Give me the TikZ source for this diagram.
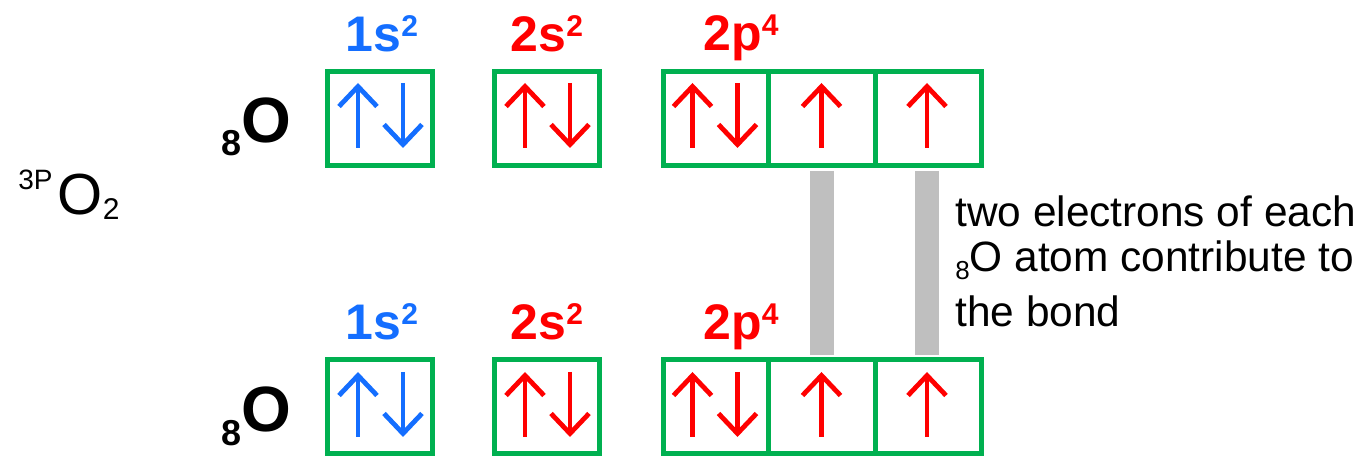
\documentclass[tikz,border=0pt]{standalone}
\usepackage{fontspec}
\setmainfont{Liberation Sans}
\usetikzlibrary{arrows.meta}
\definecolor{ogreen}{RGB}{0,176,80}
\definecolor{oblue}{RGB}{20,110,255}
\definecolor{ored}{RGB}{255,0,0}
\definecolor{bondgray}{RGB}{191,191,191}
\newcommand\orbsup[1]{\raisebox{7.5pt}{\fontsize{15}{15}\selectfont #1}}
\begin{document}
\begin{tikzpicture}[x=0.5pt,y=-0.5pt,
  cell/.style={draw=ogreen, line width=2.5pt, inner sep=0pt, minimum height=47pt},
  spin/.style={line width=2.4pt, -{Straight Barb[length=10pt,width=19pt]}},
  lbl/.style={inner sep=0pt, anchor=base, font=\fontsize{25}{28}\selectfont\bfseries},
  atom/.style={inner sep=0pt, anchor=base west},
  note/.style={inner sep=0pt, anchor=base west, font=\fontsize{21.2}{24}\selectfont},
  bond/.style={draw=bondgray, line width=12pt}
]
\useasboundingbox (0,0) rectangle (1369,458);

% molecule label
\node[atom] (mol) at (18,215) {\raisebox{12.5pt}{\fontsize{14}{15}\selectfont 3P}\hspace{2.5pt}\fontsize{29}{30}\selectfont O\raisebox{-2.5pt}{\fontsize{15}{15}\selectfont 2}};

% atom labels
\node[atom] (Ot) at (221,143) {\bfseries\raisebox{-6.5pt}{\fontsize{18}{18}\selectfont 8}\fontsize{32}{32}\selectfont O};
\node[atom] (Ob) at (221,432) {\bfseries\raisebox{-6.5pt}{\fontsize{18}{18}\selectfont 8}\fontsize{32}{32}\selectfont O};

% orbital labels
\node[lbl, text=oblue] (l1t) at (382,52) {1s\orbsup{2}};
\node[lbl, text=ored] (l2t) at (547,52) {2s\orbsup{2}};
\node[lbl, text=ored] (l3t) at (741,51) {2p\orbsup{4}};
\node[lbl, text=oblue] (l1b) at (382,340) {1s\orbsup{2}};
\node[lbl, text=ored] (l2b) at (547,340) {2s\orbsup{2}};
\node[lbl, text=ored] (l3b) at (741,340) {2p\orbsup{4}};

% cells, top row
\node[cell, minimum width=52.5pt] (s1t) at (380,119) {};
\node[cell, minimum width=52.5pt] (s2t) at (547,119) {};
\node[cell, minimum width=52.5pt] (pat) at (715.5,119) {};
\node[cell, minimum width=53.5pt] (pbt) at (821.5,119) {};
\node[cell, minimum width=53pt] (pct) at (928,119) {};
% cells, bottom row
\node[cell, minimum width=52.5pt] (s1b) at (380,407) {};
\node[cell, minimum width=52.5pt] (s2b) at (547,407) {};
\node[cell, minimum width=52.5pt] (pab) at (715.5,407) {};
\node[cell, minimum width=53.5pt] (pbb) at (821.5,407) {};
\node[cell, minimum width=53pt] (pct2) at (928,407) {};

% bonds
\draw[bond] ([yshift=-1.25pt]pbt.south) -- ([yshift=1.25pt]pbb.north);
\draw[bond] ([xshift=-0.5pt,yshift=-1.25pt]pct.south) -- ([xshift=-0.5pt,yshift=1.25pt]pct2.north);

% spins, top row
\draw[spin, oblue] ([shift={(-22,29)}]s1t.center) -- ++(0,-65);
\draw[spin, oblue] ([shift={(23,-36)}]s1t.center) -- ++(0,65);
\draw[spin, ored] ([shift={(-22,29)}]s2t.center) -- ++(0,-65);
\draw[spin, ored] ([shift={(23,-36)}]s2t.center) -- ++(0,65);
\draw[spin, ored] ([shift={(-23,29)}]pat.center) -- ++(0,-65);
\draw[spin, ored] ([shift={(22,-36)}]pat.center) -- ++(0,65);
\draw[spin, ored] ([shift={(0,29)}]pbt.center) -- ++(0,-65);
\draw[spin, ored] ([shift={(-1,29)}]pct.center) -- ++(0,-65);
% spins, bottom row
\draw[spin, oblue] ([shift={(-22,30)}]s1b.center) -- ++(0,-65);
\draw[spin, oblue] ([shift={(23,-35)}]s1b.center) -- ++(0,65);
\draw[spin, ored] ([shift={(-22,30)}]s2b.center) -- ++(0,-65);
\draw[spin, ored] ([shift={(23,-35)}]s2b.center) -- ++(0,65);
\draw[spin, ored] ([shift={(-23,30)}]pab.center) -- ++(0,-65);
\draw[spin, ored] ([shift={(22,-35)}]pab.center) -- ++(0,65);
\draw[spin, ored] ([shift={(0,30)}]pbb.center) -- ++(0,-65);
\draw[spin, ored] ([shift={(-1,30)}]pct2.center) -- ++(0,-65);

% note
\node[note] (n1) at (955,227) {two electrons of each};
\node[note] (n2) at (955,272) {\raisebox{-4pt}{\fontsize{13}{13}\selectfont 8}O atom contribute to};
\node[note] (n3) at (955,327) {the bond};
\end{tikzpicture}
\end{document}
